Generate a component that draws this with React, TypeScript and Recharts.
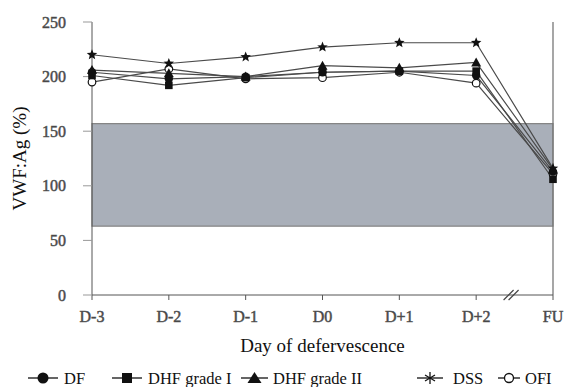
import React from "react";
import {
  LineChart,
  Line,
  XAxis,
  YAxis,
  ReferenceArea,
  ReferenceLine,
  ReferenceDot,
  Legend,
} from "recharts";

const categories = ["D-3", "D-2", "D-1", "D0", "D+1", "D+2", "FU"];
const dfValues = [204, 198, 200, 204, 205, 201, 113];
const dhf1Values = [201, 192, 199, 204, 205, 205, 106];
const dhf2Values = [206, 203, 200, 210, 208, 213, 115];
const dssValues = [220, 212, 218, 227, 231, 231, 116];
const ofiValues = [195, 207, 198, 199, 204, 194, 111];
const yTicks = [0, 50, 100, 150, 200, 250];
const normalRange = [63, 157];
const breakBetween = [5, 6];

const seriesNames = ["DF", "DHF grade I", "DHF grade II", "DSS", "OFI"];

const data = categories.map((c, i) => ({
  x: i,
  DF: dfValues[i],
  DHF1: dhf1Values[i],
  DHF2: dhf2Values[i],
  DSS: dssValues[i],
  OFI: ofiValues[i],
}));

const FONT = "Liberation Serif, Times New Roman, serif";
const LINE = "#4a4a4a";
const MARK = "#111";

type Kind = "circle" | "square" | "triangle" | "star" | "open";

function Marker({ kind, cx, cy }: { kind: Kind; cx: number; cy: number }) {
  if (cx == null || cy == null || isNaN(cx) || isNaN(cy)) return null;
  switch (kind) {
    case "circle":
      return <circle cx={cx} cy={cy} r={4.2} fill={MARK} />;
    case "square":
      return <rect x={cx - 3.8} y={cy - 3.8} width={7.6} height={7.6} fill={MARK} />;
    case "triangle":
      return (
        <path
          d={`M${cx},${cy - 5} L${cx + 5},${cy + 4} L${cx - 5},${cy + 4} Z`}
          fill={MARK}
        />
      );
    case "star": {
      const pts: string[] = [];
      for (let k = 0; k < 10; k++) {
        const r = k % 2 === 0 ? 5.5 : 2.4;
        const a = -Math.PI / 2 + (k * Math.PI) / 5;
        pts.push(`${cx + r * Math.cos(a)},${cy + r * Math.sin(a)}`);
      }
      return <polygon points={pts.join(" ")} fill={MARK} />;
    }
    case "open":
      return (
        <circle cx={cx} cy={cy} r={3.8} fill="#fff" stroke={MARK} strokeWidth={1.2} />
      );
  }
  return null;
}

function LegendMarker({ kind, cx, cy }: { kind: Kind; cx: number; cy: number }) {
  if (kind === "star") {
    return (
      <g stroke={MARK} strokeWidth={1.3}>
        <line x1={cx} y1={cy - 6} x2={cx} y2={cy + 6} />
        <line x1={cx - 5} y1={cy - 3} x2={cx + 5} y2={cy + 3} />
        <line x1={cx - 5} y1={cy + 3} x2={cx + 5} y2={cy - 3} />
      </g>
    );
  }
  if (kind === "square")
    return <rect x={cx - 5} y={cy - 5} width={10} height={10} fill={MARK} />;
  if (kind === "circle") return <circle cx={cx} cy={cy} r={5.5} fill={MARK} />;
  if (kind === "triangle")
    return (
      <path d={`M${cx},${cy - 6} L${cx + 7},${cy + 5} L${cx - 7},${cy + 5} Z`} fill={MARK} />
    );
  return <circle cx={cx} cy={cy} r={4.5} fill="#fff" stroke={MARK} strokeWidth={1.3} />;
}

const legendItems: { kind: Kind; x1: number; x2: number; tx: number }[] = [
  { kind: "circle", x1: 28, x2: 58, tx: 64 },
  { kind: "square", x1: 112, x2: 142, tx: 148 },
  { kind: "triangle", x1: 241, x2: 268, tx: 273 },
  { kind: "star", x1: 417, x2: 443, tx: 453 },
  { kind: "open", x1: 498, x2: 520, tx: 525 },
];

function LegendContent() {
  return (
    <svg width={578} height={26} style={{ display: "block" }}>
      {legendItems.map((it, i) => (
        <g key={i}>
          <line x1={it.x1} y1={13} x2={it.x2} y2={13} stroke={MARK} strokeWidth={1.3} />
          <LegendMarker kind={it.kind} cx={(it.x1 + it.x2) / 2} cy={13} />
          <text x={it.tx} y={19} style={{ fontFamily: FONT }} fontSize={16.5} fill="#111">
            {seriesNames[i]}
          </text>
        </g>
      ))}
    </svg>
  );
}

const seriesDefs: { key: string; kind: Kind }[] = [
  { key: "OFI", kind: "open" },
  { key: "DF", kind: "circle" },
  { key: "DHF1", kind: "square" },
  { key: "DHF2", kind: "triangle" },
  { key: "DSS", kind: "star" },
];

const BreakMark = (props: any) => {
  const { cx, cy } = props;
  if (cx == null || cy == null) return null;
  return (
    <g stroke="#444" strokeWidth={1.2}>
      <line x1={cx - 11} y1={cy + 5} x2={cx - 1} y2={cy - 5} />
      <line x1={cx - 6} y1={cy + 5} x2={cx + 4} y2={cy - 5} />
    </g>
  );
};

const tickTextStyle = { fontFamily: FONT, fontWeight: 400 as const };

const XTick = (props: any) => {
  const { x, y, payload } = props;
  return (
    <text
      x={x}
      y={y}
      dy="0.71em"
      textAnchor="middle"
      style={tickTextStyle}
      fontSize={16}
      fill="#444"
      stroke="#555"
      strokeWidth={0.5}
    >
      {categories[payload.value]}
    </text>
  );
};

const YTick = (props: any) => {
  const { x, y, payload } = props;
  return (
    <text
      x={x}
      y={y}
      dy="0.355em"
      textAnchor="end"
      style={tickTextStyle}
      fontSize={16}
      fill="#444"
      stroke="#555"
      strokeWidth={0.5}
    >
      {payload.value}
    </text>
  );
};

export default function App() {
  return (
    <div
      style={{
        position: "absolute",
        left: 0,
        top: 0,
        width: 578,
        height: 387,
        background: "#fff",
        fontFamily: FONT,
      }}
    >
      <LineChart
        width={578}
        height={387}
        data={data}
        margin={{ top: 22, right: 25, bottom: 62, left: 32 }}
      >
        <ReferenceArea
          y1={normalRange[0]}
          y2={normalRange[1]}
          fill="#a9afb9"
          fillOpacity={1}
          stroke="#858585"
          strokeWidth={1.2}
        />
        <XAxis
          dataKey="x"
          type="number"
          domain={[0, categories.length - 1]}
          ticks={categories.map((_, i) => i)}
          height={30}
          tickSize={5}
          tickMargin={11}
          stroke="#555"
          tick={<XTick />}
          label={{
            content: (p: any) => {
              const vb = p.viewBox || {};
              return (
                <text
                  x={vb.x + vb.width / 2}
                  y={352}
                  textAnchor="middle"
                  style={{ fontFamily: FONT }}
                  fontSize={19}
                  fill="#111"
                >
                  Day of defervescence
                </text>
              );
            },
          }}
        />
        <YAxis
          domain={[0, 250]}
          ticks={yTicks}
          width={60}
          tickSize={9}
          tickMargin={17}
          stroke="#555"
          tickLine={{ stroke: "#999" }}
          tick={<YTick />}
          label={{
            content: () => {
              const cy = 22 + 273 / 2;
              return (
                <text
                  x={19}
                  y={cy}
                  transform={`rotate(-90 19 ${cy})`}
                  textAnchor="middle"
                  dominantBaseline="central"
                  style={{ fontFamily: FONT }}
                  fontSize={19}
                  fill="#111"
                >
                  VWF:Ag (%)
                </text>
              );
            },
          }}
        />
        <ReferenceLine x={categories.length - 1} stroke="#777" strokeWidth={1.3} />
        <ReferenceDot
          x={(breakBetween[0] + breakBetween[1]) / 2}
          y={0}
          shape={BreakMark}
          ifOverflow="visible"
        />
        {seriesDefs.map((s) => (
          <Line
            key={s.key}
            dataKey={s.key}
            stroke={LINE}
            strokeWidth={1.2}
            isAnimationActive={false}
            dot={(p: any) => <Marker key={`${s.key}-${p.index}`} kind={s.kind} cx={p.cx} cy={p.cy} />}
            activeDot={false}
          />
        ))}
        <Legend
          verticalAlign="middle"
          align="center"
          layout="horizontal"
          wrapperStyle={{ top: 365, left: 0, width: 578 }}
          content={() => <LegendContent />}
        />
      </LineChart>
    </div>
  );
}
